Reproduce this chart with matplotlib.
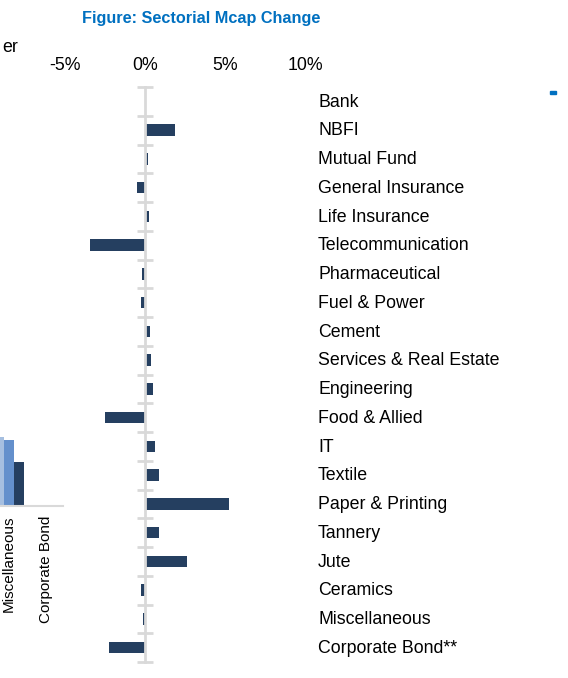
import matplotlib
matplotlib.use("Agg")
import matplotlib.pyplot as plt
from matplotlib.patches import Rectangle
from matplotlib.transforms import blended_transform_factory

plt.rcParams['font.family'] = ['Liberation Sans', 'DejaVu Sans']

# ---- data ----
sectors = ["Bank", "NBFI", "Mutual Fund", "General Insurance", "Life Insurance",
           "Telecommunication", "Pharmaceutical", "Fuel & Power", "Cement",
           "Services & Real Estate", "Engineering", "Food & Allied", "IT",
           "Textile", "Paper & Printing", "Tannery", "Jute", "Ceramics",
           "Miscellaneous", "Corporate Bond**"]
mcap_change = [0.0, 1.9, 0.2, -0.5, 0.28, -3.45, -0.2, -0.25, 0.32, 0.35,
               0.5, -2.5, 0.6, 0.9, 5.25, 0.87, 2.6, -0.27, -0.1, -2.27]
xticks = [-5, 0, 5, 10]
xtick_labels = ["-5%", "0%", "5%", "10%"]

# partially visible neighbouring chart (left edge of page)
left_cats = ["Miscellaneous", "Corporate Bond"]
left_s1 = [69, 0]
left_s2 = [66, 0]
left_s3 = [44, 0]

W, H = 568, 678
fig = plt.figure(figsize=(W / 100, H / 100), dpi=100)

def fx(px):
    return px / W

def fy(py):
    return 1 - py / H

navy = '#253f60'
grey = '#d9d9d9'

# ---- main axes ----
ax_left_px, ax_right_px = 49, 321
ax_top_px, ax_bot_px = 87, 662
ax = fig.add_axes([fx(ax_left_px), fy(ax_bot_px),
                   (ax_right_px - ax_left_px) / W, (ax_bot_px - ax_top_px) / H])
n = len(sectors)
ypos = list(range(n))
ax.barh(ypos, mcap_change, height=0.4, color=navy, zorder=2)
ax.set_xlim(-6, 11)
ax.set_ylim(n - 0.5, -0.5)

for s in ['top', 'right', 'bottom']:
    ax.spines[s].set_visible(False)
ax.spines['left'].set_position(('data', 0))
ax.spines['left'].set_color(grey)
ax.spines['left'].set_linewidth(2)
ax.spines['left'].set_zorder(3)
ax.set_yticks([i - 0.5 for i in range(n + 1)])
ax.set_yticklabels([])
ax.tick_params(axis='y', direction='inout', length=11, width=2, color=grey)

ax.xaxis.tick_top()
ax.set_xticks(xticks)
ax.set_xticklabels(xtick_labels, fontsize=12.8)
ax.tick_params(axis='x', length=0, pad=9.5)
ax.set_facecolor('none')

tr = blended_transform_factory(fig.transFigure, ax.transData)
for i, name in enumerate(sectors):
    ax.text(fx(318), i + 0.03, name, transform=tr, ha='left', va='center',
            fontsize=12.8, color='black')

# ---- fragment of neighbouring chart at left ----
lax_left_px, lax_right_px = 0, 63
lax_bot_px, lax_top_px = 506, 87
lax = fig.add_axes([fx(lax_left_px), fy(lax_bot_px),
                    (lax_right_px - lax_left_px) / W, (lax_bot_px - lax_top_px) / H])
gap = 37.0
bw = 10 / gap
lx = list(range(len(left_cats)))
lax.bar([x - bw for x in lx], left_s1, width=bw, color='#a6bfe0')
lax.bar(lx, left_s2, width=bw, color='#6490cc')
lax.bar([x + bw for x in lx], left_s3, width=bw, color=navy)
lax.set_xlim(-9 / gap, (63 - 9) / gap)
lax.set_ylim(0, lax_bot_px - lax_top_px)
for s in ['top', 'right', 'left']:
    lax.spines[s].set_visible(False)
lax.spines['bottom'].set_color(grey)
lax.spines['bottom'].set_linewidth(1.5)
lax.set_yticks([])
lax.set_xticks(lx)
lax.set_xticklabels(left_cats, rotation=90, fontsize=11)
lax.tick_params(axis='x', length=0, pad=7)
lax.set_facecolor('none')

# ---- page text ----
fig.text(fx(82), fy(19), "Figure: Sectorial Mcap Change", fontsize=11.7,
         fontweight='bold', color='#0070C0', ha='left', va='center')
fig.text(fx(18), fy(48), "er", fontsize=12.8, ha='right', va='center')
fig.patches.append(Rectangle((fx(550), fy(94)), 6 / W, 3 / H,
                             color='#0070C0', transform=fig.transFigure))

fig.savefig("out.png", dpi=100)
